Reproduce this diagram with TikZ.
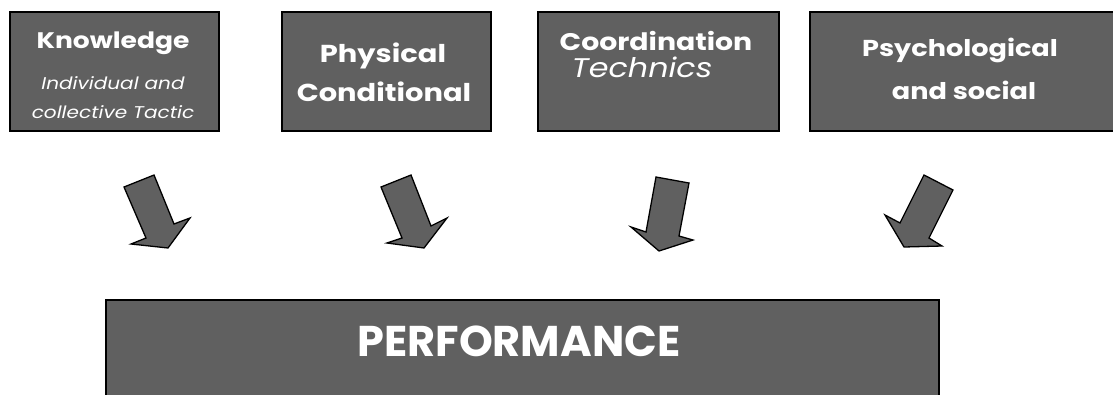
\documentclass[tikz,border=0pt]{standalone}
\usepackage{fontspec}
\setmainfont{Poppins}[FakeStretch=1.18]
\newfontfamily\widefont{Poppins}
\definecolor{boxgray}{HTML}{606060}
\begin{document}
\begin{tikzpicture}[x=1pt,y=-1pt,
  panel/.style={draw=black, line width=1.5pt, fill=boxgray, inner sep=0pt, anchor=north west},
  blockarrow/.style={draw=black, line width=1.3pt, fill=boxgray, line join=miter},
  label/.style={text=white, anchor=base, inner sep=0pt},
  headline/.style={label, font=\bfseries\fontsize{#1}{#1}\selectfont},
  subline/.style={label, font=\itshape\fontsize{#1}{#1}\selectfont},
  bigline/.style={label, font=\widefont\bfseries\fontsize{43}{48}\selectfont}]
\useasboundingbox (0,0) rectangle (1113,394);
\clip (0,0) rectangle (1113,394);

% factor boxes
\node[panel, minimum width=209pt, minimum height=119pt] (know) at (9,11) {};
\node[panel, minimum width=209pt, minimum height=119pt] (phys) at (281,11) {};
\node[panel, minimum width=241pt, minimum height=119pt] (coord) at (537,11) {};
\node[panel, minimum width=320pt, minimum height=119pt] (psych) at (809,11) {};
% result box
\node[panel, minimum width=833pt, minimum height=110pt] (perf) at (105,299) {};

% box texts
\node[headline=22.5] (knowA) at (113,48) {Knowledge};
\node[subline=17] (knowB) at (113,89) {Individual and};
\node[subline=17] (knowC) at (113,118) {collective Tactic};
\node[headline=24.5] (physA) at (383,62) {Physical};
\node[headline=24.5] (physB) at (384,101) {Conditional};
\node[headline=24] (coordA) at (656,50) {Coordination};
\node[subline=27] (coordB) at (642,77) {Technics};
\node[headline=23] (psychA) at (960,56) {Psychological};
\node[headline=23] (psychB) at (964,99) {and social};
\node[bigline] (perfA) at (519,356) {PERFORMANCE};

% block arrows
\draw[blockarrow] (124,187) -- (154,175) -- (174,224) -- (190,218) -- (168,248) -- (131,244) -- (146,238) -- cycle;
\draw[blockarrow] (381,187) -- (411,175) -- (431,226) -- (447,218) -- (424,248) -- (387,243) -- (402,238) -- cycle;
\draw[blockarrow] (656,177) -- (689,183) -- (679,236) -- (693,240) -- (659,251) -- (631,227) -- (646,232) -- cycle;
\draw[blockarrow] (924,175) -- (953,190) -- (929,238) -- (942,246) -- (904,247) -- (885,215) -- (900,223) -- cycle;
\end{tikzpicture}
\end{document}
